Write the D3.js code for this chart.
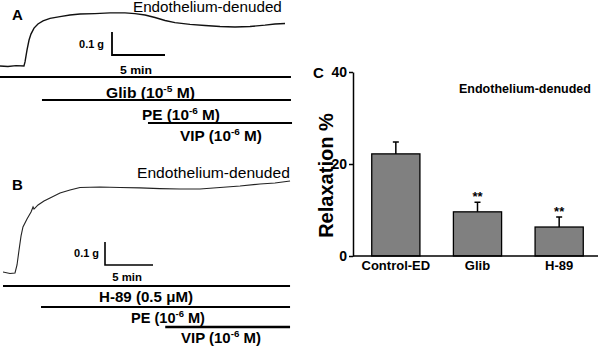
<!DOCTYPE html>
<html>
<head>
<meta charset="utf-8">
<script src="https://cdn.jsdelivr.net/npm/d3@7"></script>
<style>
  body { margin: 0; background: #fff; }
  text { font-family: Arial, "Liberation Sans", sans-serif; fill: #000; }
</style>
</head>
<body>
<svg id="fig" width="600" height="347"></svg>
<script>
// trace A (Glib), time in min, tension in g above baseline
var traceATime = [0, 0.75, 1.51, 2.26, 2.36, 2.55, 2.74, 2.92, 3.21, 3.58, 4.06, 4.72, 5.66, 6.6, 7.55, 8.96,
    10.38, 11.79, 12.74, 13.68, 14.62, 15.57, 16.51, 17.92, 19.34, 20.75, 22.17, 23.58, 25, 25.94, 26.89];
var traceATension = [0.002, 0, 0.004, 0.002, 0.020, 0.072, 0.115, 0.141, 0.167, 0.185, 0.198, 0.209, 0.217, 0.224, 0.228, 0.230,
    0.233, 0.233, 0.230, 0.224, 0.213, 0.200, 0.191, 0.183, 0.178, 0.174, 0.172, 0.174, 0.180, 0.185, 0.187];

// trace B (H-89)
var traceBTime = [0, 0.73, 1.25, 1.46, 1.67, 1.88, 2.08, 2.5, 2.92, 3.13, 3.23, 3.65, 4.27, 4.9, 5.94, 6.98, 8.02,
    10.1, 12.19, 14.27, 16.35, 18.44, 20.52, 22.6, 24.69, 26.77, 28.33, 29.9];
var traceBTension = [0.004, -0.002, 0, 0.035, 0.100, 0.161, 0.200, 0.235, 0.265, 0.287, 0.278, 0.296, 0.313, 0.326, 0.348, 0.361, 0.372,
    0.374, 0.372, 0.370, 0.367, 0.365, 0.365, 0.372, 0.378, 0.387, 0.391, 0.400];

// drug application bars (start / end in min)
var drugsA = [["Glib (10", "-5", " M)"], ["PE (10", "-6", " M)"], ["VIP (10", "-6", " M)"]];
var drugStartA = [0, 3.96, 13.96];
var drugEndA = [27.45, 27.45, 27.55];
var drugsB = [["H-89 (0.5 \u03bcM)"], ["PE (10", "-6", " M)"], ["VIP (10", "-6", " M)"]];
var drugStartB = [0, 3.96, 16.9];
var drugEndB = [29.9, 29.9, 29.9];

// panel C
var groups = ["Control-ED", "Glib", "H-89"];
var relaxation = [22.2, 9.6, 6.3];
var sem = [2.6, 2.1, 2.2];
var stars = ["", "**", "**"];
var yTicks = [0, 20, 40];

var svg = d3.select("#fig");
svg.append("rect").attr("width", 600).attr("height", 347).attr("fill", "#fff");

// text stretched horizontally to a given width; odd pieces are superscripts
function addText(g, x, y, width, size, weight, anchor, pieces, rotate) {
    var t = g.append("text")
        .attr("text-anchor", anchor)
        .style("font-size", size + "px")
        .style("font-weight", weight);
    pieces.forEach(function (p, i) {
        var s = t.append("tspan").text(p);
        if (i % 2 === 1) {
            s.style("font-size", (size * 0.65) + "px").attr("dy", -size * 0.4);
        } else if (i > 0) {
            s.attr("dy", size * 0.4);
        }
    });
    var k = width ? width / t.node().getBBox().width : 1;
    t.attr("transform", "translate(" + x + "," + y + ")" + (rotate ? " rotate(" + rotate + ")" : "") + " scale(" + k + ",1)");
    return t;
}

var line = function (xs, ys) {
    return d3.line()
        .x(function (d) { return xs(d[0]); })
        .y(function (d) { return ys(d[1]); });
};

// ---------- panel A ----------
var gA = svg.append("g");
var xA = d3.scaleLinear().domain([0, 5]).range([0, 53]);
var yA = d3.scaleLinear().domain([0, 0.1]).range([66.5, 43.5]);

gA.append("path")
    .datum(d3.zip(traceATime, traceATension))
    .attr("d", line(xA, yA))
    .attr("fill", "none")
    .attr("stroke", "#111")
    .attr("stroke-width", 1.4);

addText(gA, 12, 20, 0, 15, "bold", "start", ["A"]);
addText(gA, 133, 11.5, 149, 14, "normal", "start", ["Endothelium-denuded"]);

// scale bar A
var sbA = [112, 55];
gA.append("path")
    .attr("d", "M" + sbA[0] + "," + (sbA[1] - (yA(0) - yA(0.1))) + "V" + sbA[1] + "H" + (sbA[0] + xA(5) - xA(0)))
    .attr("fill", "none").attr("stroke", "#000").attr("stroke-width", 1.8);
addText(gA, 104, 47.5, 25, 10.5, "bold", "end", ["0.1 g"]);
addText(gA, 136, 73.5, 32, 11.5, "bold", "middle", ["5 min"]);

var barYA = [77, 100, 123];
var labA = [[150.5, 97.5, 89], [181, 119.5, 78], [221, 140.5, 82]];
drugsA.forEach(function (d, i) {
    gA.append("line")
        .attr("x1", xA(drugStartA[i])).attr("x2", xA(drugEndA[i]))
        .attr("y1", barYA[i]).attr("y2", barYA[i])
        .attr("stroke", "#000").attr("stroke-width", 1.8);
    addText(gA, labA[i][0], labA[i][1], labA[i][2], 15, "bold", "middle", d);
});

// ---------- panel B ----------
var gB = svg.append("g");
var xB = d3.scaleLinear().domain([0, 5]).range([3, 51]);
var yB = d3.scaleLinear().domain([0, 0.1]).range([273, 250]);

gB.append("path")
    .datum(d3.zip(traceBTime, traceBTension))
    .attr("d", line(xB, yB))
    .attr("fill", "none")
    .attr("stroke", "#222")
    .attr("stroke-width", 1.1);

addText(gB, 12, 189.5, 0, 15, "bold", "start", ["B"]);
addText(gB, 137, 178, 153, 14, "normal", "start", ["Endothelium-denuded"]);

var sbB = [105, 265];
gB.append("path")
    .attr("d", "M" + sbB[0] + "," + (sbB[1] - (yB(0) - yB(0.1))) + "V" + sbB[1] + "H" + (sbB[0] + xB(5) - xB(0)))
    .attr("fill", "none").attr("stroke", "#000").attr("stroke-width", 1.6);
addText(gB, 99, 256.5, 25, 10.5, "bold", "end", ["0.1 g"]);
addText(gB, 127, 280.5, 30, 11, "bold", "middle", ["5 min"]);

var barYB = [286, 307, 327];
var barWB = [1.8, 1.8, 2.4];
var labB = [[146, 302, 94], [168, 323, 74], [221, 343, 80]];
drugsB.forEach(function (d, i) {
    gB.append("line")
        .attr("x1", xB(drugStartB[i])).attr("x2", xB(drugEndB[i]))
        .attr("y1", barYB[i]).attr("y2", barYB[i])
        .attr("stroke", "#000").attr("stroke-width", barWB[i]);
    addText(gB, labB[i][0], labB[i][1], labB[i][2], 15, "bold", "middle", d);
});

// ---------- panel C ----------
var gC = svg.append("g");
var x = d3.scaleBand().domain(groups).range([355, 600]).paddingInner(0.41).paddingOuter(0.205);
var y = d3.scaleLinear().domain([0, 40]).range([256, 72]);

gC.selectAll("rect.bar")
    .data(groups)
    .join("rect")
    .attr("class", "bar")
    .attr("x", function (d) { return x(d); })
    .attr("y", function (d, i) { return y(relaxation[i]); })
    .attr("width", x.bandwidth())
    .attr("height", function (d, i) { return y(0) - y(relaxation[i]); })
    .attr("fill", "#808080")
    .attr("stroke", "#000")
    .attr("stroke-width", 1.3);

// error bars (upper only)
groups.forEach(function (d, i) {
    var cx = x(d) + x.bandwidth() / 2,
        top = y(relaxation[i] + sem[i]);
    gC.append("path")
        .attr("d", "M" + cx + "," + y(relaxation[i]) + "V" + top + "M" + (cx - 3) + "," + top + "H" + (cx + 3))
        .attr("fill", "none").attr("stroke", "#000").attr("stroke-width", 1.5);
    if (stars[i]) {
        gC.append("text")
            .attr("x", cx).attr("y", top - 1)
            .attr("text-anchor", "middle")
            .style("font-size", "13px").style("font-weight", "bold")
            .text(stars[i]);
    }
});

var yAxis = gC.append("g")
    .attr("transform", "translate(353,0)")
    .call(d3.axisLeft(y).tickValues(yTicks).tickSize(4).tickSizeOuter(0).tickPadding(2));
yAxis.selectAll("text").style("font-size", "14px").style("font-weight", "bold")
    .style("font-family", "Arial, 'Liberation Sans', sans-serif");
yAxis.selectAll("path, line").attr("stroke", "#000").attr("stroke-width", 1.5);

gC.append("line")
    .attr("x1", 353).attr("x2", 598)
    .attr("y1", y(0)).attr("y2", y(0))
    .attr("stroke", "#000").attr("stroke-width", 1.5);

var xAxis = gC.append("g")
    .attr("transform", "translate(0," + y(0) + ")")
    .call(d3.axisBottom(x).tickSize(0).tickPadding(5));
xAxis.select(".domain").remove();
xAxis.selectAll("text").style("font-size", "13px").style("font-weight", "bold")
    .style("font-family", "Arial, 'Liberation Sans', sans-serif");

addText(gC, 313, 77.5, 0, 15, "bold", "start", ["C"]);
addText(gC, 332.5, 175.5, 125, 20, "bold", "middle", ["Relaxation %"], -90);
addText(gC, 459, 92.5, 132, 13, "bold", "start", ["Endothelium-denuded"]);
</script>
</body>
</html>
